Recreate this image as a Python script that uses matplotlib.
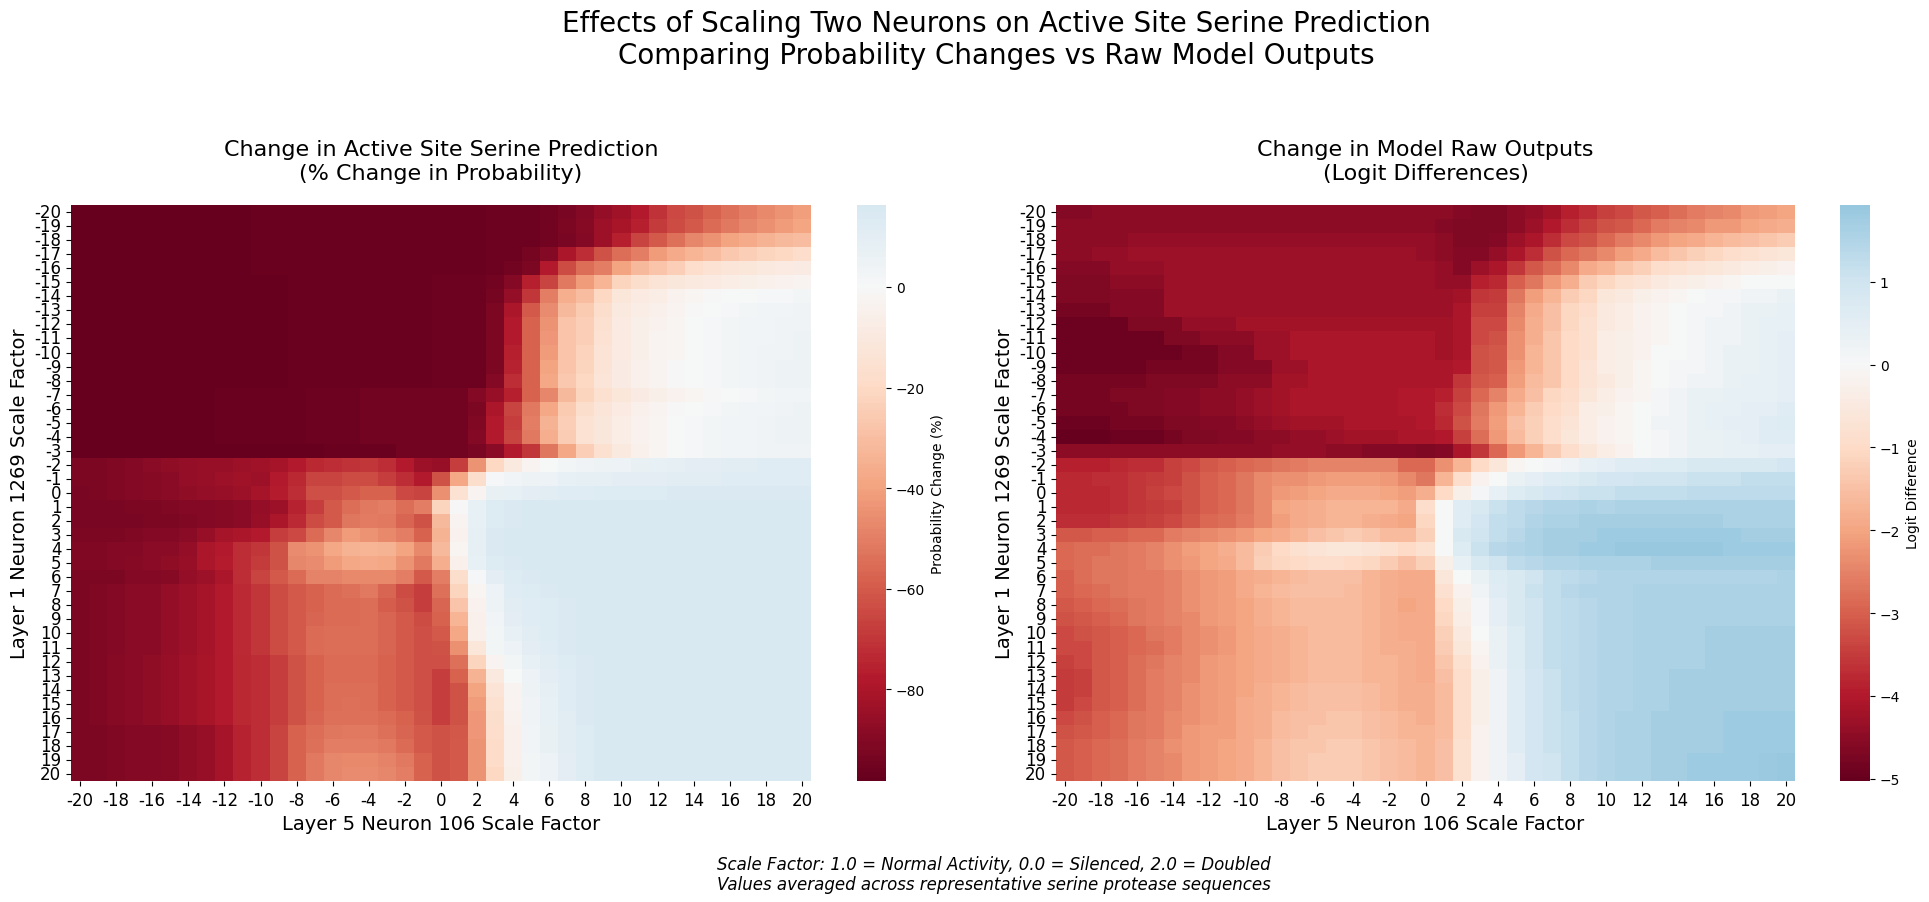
import numpy as np
import pandas as pd
import matplotlib
matplotlib.use('Agg')
import matplotlib.pyplot as plt
import seaborn as sns

scales = list(range(-20, 21))

h0 = [-98]*10 + [-97]*13
h1 = [-98]*12 + [-97]*8 + [-96]*3
h2 = [-98]*8 + [-97]*5 + [-96]*3 + [-95]*6
a7 = [-92,-91,-90,-88,-88,-86,-84,-82,-78,-73,-70,-64,-60]
a12 = [-92,-91,-89,-88,-87,-85,-83,-81,-78,-74,-72,-68,-62]
a17 = [-92,-92,-91,-90,-90,-89,-87,-85,-82,-75,-72,-66,-58]

# % change in probability, one row per layer 1 scale factor
prob_change = [
 h0 + [-96,-96,-96,-95,-93,-90,-86,-83,-78,-71,-65,-62,-58,-54,-50,-47,-44,-41],
 h0 + [-96,-96,-96,-95,-92,-89,-84,-81,-76,-69,-64,-60,-56,-52,-48,-45,-42,-39],
 h0 + [-96,-96,-96,-95,-93,-90,-84,-76,-66,-60,-54,-48,-44,-40,-37,-34,-32,-30],
 h0 + [-96,-96,-94,-90,-80,-72,-62,-55,-50,-42,-37,-33,-30,-27,-24,-22,-20,-18],
 h0 + [-96,-95,-92,-78,-64,-55,-50,-40,-32,-28,-24,-18,-15,-13,-12,-10,-9,-8],
 h1 + [-95,-90,-76,-66,-52,-42,-33,-22,-17,-14,-11,-10,-9,-7,-6,-5,-4,-3],
 h1 + [-94,-86,-70,-50,-36,-30,-20,-12,-9,-7,-4,-2,-1,0,0,1,1,2],
 h1 + [-92,-80,-60,-46,-32,-26,-17,-10,-7,-5,-3,-1,0,1,2,3,3,4],
 h1 + [-92,-78,-58,-44,-28,-24,-16,-9,-6,-4,-2,0,1,2,3,3,4,4],
 h1 + [-92,-78,-58,-43,-28,-24,-15,-9,-6,-3,-2,0,1,2,3,3,4,5],
 h1 + [-92,-76,-58,-42,-28,-23,-14,-9,-6,-3,-2,0,1,2,3,4,4,5],
 h1 + [-92,-75,-58,-40,-28,-22,-14,-8,-5,-3,-1,0,1,2,3,4,5,5],
 h1 + [-90,-72,-58,-38,-27,-20,-13,-8,-5,-3,-1,0,1,2,3,4,5,5],
 h2 + [-90,-85,-76,-58,-48,-32,-22,-16,-12,-8,-6,-4,-2,-1,0,1,2,3,3],
 h2 + [-92,-80,-66,-52,-38,-26,-17,-13,-9,-5,-3,-1,0,1,2,3,3,4,5],
 h2 + [-91,-78,-68,-50,-34,-24,-15,-11,-7,-4,-2,0,1,2,3,3,4,5,5],
 h2 + [-90,-78,-66,-52,-36,-25,-15,-11,-7,-4,-2,0,1,2,3,3,4,5,5],
 [-98]*14 + [-97]*4 + [-95]*4 + [-93,-88,-78,-70,-53,-38,-24,-16,-10,-5,-2,0,1,2,3,3,4,4,4],
 [-92,-92,-91,-90,-88,-87,-86,-85,-85,-84,-83,-82,-78,-74,-72,-71,-70,-72,-78,-84,-85,-68,-44,-20,-10,-3,0,2,4,5,6,7,8,9,10,10,11,11,12,12,12],
 [-92,-92,-91,-90,-89,-88,-86,-85,-84,-83,-84,-78,-74,-66,-66,-64,-64,-68,-72,-78,-62,-38,-17,1,3,5,6,8,9,9,10,10,10,11,11,11,12,12,12,12,12],
 [-93,-92,-91,-90,-89,-88,-87,-86,-85,-84,-82,-77,-72,-63,-63,-60,-58,-58,-65,-66,-45,-15,-3,7,8,10,11,12,12] + [13]*4 + [14]*8,
 [-93,-93,-93,-92,-92,-91,-90,-90,-89,-88,-86,-84,-75,-68,-60,-55,-52,-50,-55,-50,-22,-1,8,13,14] + [15]*16,
 [-93,-93,-93,-93,-92,-92,-91,-90,-89,-88,-85,-80,-73,-64,-60,-53,-51,-52,-57,-62,-32,-3,8,13,14] + [15]*16,
 [-92,-92,-92,-91,-90,-90,-88,-85,-82,-80,-78,-68,-65,-56,-48,-42,-44,-47,-50,-58,-34,-4,9,14] + [15]*17,
 [-91,-91,-90,-90,-88,-88,-86,-80,-78,-72,-70,-62,-46,-44,-38,-34,-33,-34,-40,-47,-32,-2,9,14] + [15]*17,
 [-91,-91,-90,-89,-88,-87,-85,-80,-77,-72,-69,-62,-48,-46,-42,-38,-37,-38,-44,-52,-36,-5,8,13,14] + [15]*16,
 [-92,-92,-92,-90,-90,-89,-86,-84,-80,-72,-66,-60,-56,-49,-49,-47,-47,-47,-50,-60,-50,-17,1,10,13,14] + [15]*15,
 a7 + [-58,-56,-54,-52,-57,-64,-68,-54,-22,-2,6,12,13,14] + [15]*14,
 a7 + [-58,-56,-56,-55,-59,-62,-68,-57,-28,-4,5,11,12,13,14] + [15]*13,
 a7 + [-57,-56,-56,-55,-57,-60,-64,-58,-33,-5,3,10,12,13,14] + [15]*13,
 a7 + [-56,-55,-55,-55,-57,-60,-63,-60,-38,-5,2,8,11,13,14] + [15]*13,
 a7 + [-56,-55,-55,-55,-57,-60,-63,-62,-45,-12,2,6,10,12,14] + [15]*13,
 a12 + [-58,-56,-56,-56,-58,-60,-63,-63,-54,-22,-3,2,8,11,13,14] + [15]*12,
 a12 + [-58,-56,-56,-56,-58,-60,-63,-68,-58,-34,-10,0,6,10,12,14] + [15]*12,
 a12 + [-58,-55,-55,-55,-58,-60,-63,-68,-62,-40,-14,-3,5,9,12,14] + [15]*12,
 a12 + [-58,-55,-54,-55,-58,-60,-63,-68,-62,-42,-16,-3,4,8,12,14] + [15]*12,
 a12 + [-57,-54,-54,-54,-56,-58,-62,-68,-62,-43,-17,-4,4,8,11,14] + [15]*12,
 a17 + [-55,-53,-52,-52,-54,-57,-60,-62,-61,-43,-18,-5,3,7,11,13] + [15]*12,
 a17 + [-54,-50,-50,-50,-52,-56,-60,-62,-60,-44,-19,-5,3,7,11,13] + [15]*12,
 a17 + [-52,-48,-47,-47,-49,-52,-58,-62,-60,-44,-19,-5,2,6,10,13] + [15]*12,
 a17 + [-52,-48,-46,-46,-48,-50,-58,-62,-60,-44,-20,-6,2,6,10,13] + [15]*12,
]

# right hand ends of the lower logit rows
t7 = [.6,.8,1.1,1.2,1.4,1.5,1.5,1.5,1.6,1.6,1.6,1.6,1.6,1.6,1.6,1.6,1.6]
t8 = [.5,.8,1.0,1.2,1.3,1.4,1.5,1.5,1.6,1.6,1.6,1.6,1.6,1.6,1.6,1.6,1.6]
t10 = [.3,.7,1.0,1.2,1.3,1.4,1.5,1.5,1.6,1.6,1.6,1.6,1.7,1.7,1.7,1.7,1.7]
t13 = [.2,.6,.9,1.1,1.3,1.4,1.5,1.5,1.6,1.6,1.7,1.7,1.7,1.7,1.7,1.7,1.7]
t16 = [.2,.6,.9,1.1,1.2,1.4,1.5,1.6,1.6,1.7,1.7,1.7,1.7,1.8,1.8,1.8,1.8]
t19 = [.2,.5,.9,1.0,1.2,1.4,1.5,1.6,1.6,1.7,1.7,1.8,1.8,1.8,1.8,1.85,1.9]

# logit differences, same layout
logit_diff = [
 [-4.6]*2 + [-4.5]*20 + [-4.6,-4.7] + [-4.7,-4.5,-4.4,-4.2,-3.9,-3.7,-3.4,-3.3,-3.1,-3.0,-2.8,-2.6,-2.5,-2.4,-2.2,-2.1,-2.0],
 [-4.5]*21 + [-4.6,-4.7,-4.7] + [-4.7,-4.5,-4.3,-4.0,-3.7,-3.4,-3.2,-3.1,-2.9,-2.6,-2.5,-2.4,-2.2,-2.2,-2.0,-1.9,-1.8],
 [-4.5]*4 + [-4.4]*17 + [-4.5,-4.7,-4.7] + [-4.6,-4.3,-4.1,-3.7,-3.3,-3.2,-2.9,-2.6,-2.4,-2.2,-2.0,-1.9,-1.7,-1.6,-1.5,-1.4,-1.3],
 [-4.5]*2 + [-4.4]*2 + [-4.3]*16 + [-4.4,-4.5,-4.6,-4.6] + [-4.4,-4.1,-3.7,-3.2,-2.9,-2.7,-2.4,-2.1,-1.9,-1.6,-1.4,-1.2,-1.1,-.9,-.8,-.7,-.6],
 [-4.6]*3 + [-4.4]*3 + [-4.3]*15 + [-4.4,-4.6,-4.3] + [-4.1,-3.6,-3.1,-2.8,-2.4,-1.9,-1.7,-1.4,-1.2,-.9,-.8,-.7,-.6,-.5,-.4,-.3,-.2],
 [-4.7]*3 + [-4.5]*3 + [-4.3]*15 + [-4.4,-4.4,-3.9] + [-3.8,-3.0,-2.7,-2.2,-1.8,-1.3,-1.1,-.8,-.7,-.5,-.4,-.3,-.2,-.1,0,0,0],
 [-4.7]*3 + [-4.6]*3 + [-4.3]*15 + [-4.3,-4.2,-3.6] + [-3.5,-2.7,-2.1,-1.7,-1.3,-1.1,-.6,-.5,-.3,-.2,-.1,0,.1,.1,.2,.2,.3],
 [-4.8]*3 + [-4.6]*3 + [-4.3]*15 + [-4.3,-4.1,-3.4] + [-3.4,-2.5,-1.9,-1.5,-1.1,-.9,-.5,-.4,-.2,-.1,0,.1,.1,.2,.3,.3,.4],
 [-4.9]*4 + [-4.7]*3 + [-4.4]*3 + [-4.2]*11 + [-4.2,-4.1,-3.3] + [-3.3,-2.4,-1.8,-1.5,-1.1,-.8,-.5,-.4,-.2,-.1,0,.1,.2,.2,.3,.4,.4],
 [-4.9]*6 + [-4.7]*2 + [-4.5]*3 + [-4.3]*2 + [-4.1]*8 + [-4.2,-4.1,-3.3] + [-3.2,-2.3,-1.8,-1.4,-1,-.8,-.4,-.3,-.2,-.1,0,.1,.2,.2,.3,.4,.5],
 [-4.9]*7 + [-4.8]*2 + [-4.6]*2 + [-4.3]*2 + [-4.1]*8 + [-4.2,-4.1,-3.2] + [-3.1,-2.3,-1.7,-1.4,-1,-.8,-.4,-.3,-.2,0,0,.1,.2,.3,.3,.4,.5],
 [-4.9]*5 + [-4.8]*4 + [-4.6]*3 + [-4.3]*2 + [-4.1]*7 + [-4.1,-4.0,-3.2] + [-3.1,-2.2,-1.7,-1.4,-1,-.7,-.4,-.3,-.1,0,.1,.1,.2,.3,.3,.4,.5],
 [-4.8]*5 + [-4.7]*4 + [-4.5]*3 + [-4.2]*2 + [-4.1]*7 + [-4.1,-3.6,-3.1] + [-3.0,-2.1,-1.6,-1.4,-1,-.7,-.5,-.3,-.1,0,.1,.2,.2,.3,.4,.4,.5],
 [-4.8,-4.8,-4.8,-4.7,-4.7,-4.7,-4.6,-4.6,-4.5,-4.5,-4.4,-4.3,-4.2,-4.1,-4.1,-4.1,-4.1,-4.1,-4.1,-4.0,-4.0,-3.9,-3.4,-2.9,-2.5,-1.9,-1.5,-1.1,-.9,-.6,-.4,-.2,-.1,.1,.2,.3,.3,.4,.4,.4,.5],
 [-4.8,-4.8,-4.8,-4.8,-4.7,-4.7,-4.6,-4.6,-4.5,-4.5,-4.4,-4.3,-4.2,-4.1,-4.1,-4.1,-4.1,-4.1,-4.1,-4.0,-4.0,-3.7,-3.3,-2.7,-2.2,-1.7,-1.3,-1,-.8,-.4,-.3,-.1,0,.1,.2,.3,.4,.4,.5,.5,.6],
 [-4.9,-4.9,-4.9,-4.8,-4.8,-4.8,-4.7,-4.7,-4.6,-4.6,-4.5,-4.4,-4.3,-4.2,-4.2,-4.2,-4.1,-4.1,-4.1,-4.1,-4.0,-3.8,-3.2,-2.6,-2.1,-1.5,-1.2,-.9,-.7,-.4,-.2,-.1,0,.2,.2,.3,.4,.5,.5,.6,.7],
 [-5,-5,-5,-4.9,-4.9,-4.9,-4.8,-4.7,-4.7,-4.6,-4.6,-4.5,-4.5,-4.4,-4.4,-4.3,-4.2,-4.2,-4.2,-4.1,-4.1,-4.0,-3.4,-2.8,-2.2,-1.6,-1.2,-.9,-.6,-.4,-.2,-.1,0,.1,.2,.3,.3,.4,.5,.6,.6],
 [-4.5]*12 + [-4.4]*3 + [-4.5]*2 + [-4.6]*3 + [-4.7,-4.6,-4.1,-3.6] + [-2.9,-2.2,-1.7,-1.3,-.9,-.6,-.4,-.2,0,.1,.2,.3,.3,.4,.4,.5,.5],
 [-3.9,-3.9,-3.9,-3.8,-3.7,-3.7,-3.4,-3.3,-3.1,-3,-2.9,-2.8,-2.7,-2.6,-2.5,-2.5,-2.5,-2.5,-2.5,-2.9,-2.9,-2.3,-1.7,-1.0,-.6,-.1,0,.1,.2,.4,.5,.6,.6,.7,.7,.8,.8,.8,.8,.8,.9],
 [-3.8,-3.8,-3.7,-3.7,-3.6,-3.5,-3.4,-3.2,-3,-2.9,-2.7,-2.4,-2.3,-2.3,-2.2,-2.1,-2.1,-2.1,-2.2,-2.4,-2.7,-1.7,-.9,-.2,0,.3,.5,.6,.7,.8,.9,.9,1,1,1,1.1,1.1,1.1,1.2,1.2,1.2],
 [-3.8,-3.8,-3.8,-3.7,-3.6,-3.4,-3.3,-3.2,-3,-2.9,-2.7,-2.4,-2.2,-2.1,-2,-1.9,-1.9,-1.9,-2,-2.1,-1.8,-1,-.3,.1,.4,.7,.8,.9,1,1.1,1.1,1.2,1.2,1.2,1.2,1.3,1.3,1.3,1.3,1.3,1.3],
 [-3.8,-3.8,-3.8,-3.7,-3.6,-3.5,-3.4,-3.2,-3,-2.9,-2.7,-2.4,-2,-1.9,-1.8,-1.7,-1.7,-1.7,-1.7,-1.9,-.9,0,.6,.8,1.1,1.3,1.4,1.5,1.5,1.6,1.5] + [1.6]*10,
 [-3.7,-3.7,-3.7,-3.6,-3.5,-3.4,-3.3,-3.1,-2.9,-2.8,-2.6,-2.4,-2.1,-1.9,-1.8,-1.7,-1.7,-1.8,-1.9,-2,-1.1,0,.6,.9,1.2,1.3,1.5,1.6,1.6] + [1.7]*8 + [1.6]*4,
 [-3.1,-3.1,-3,-3,-2.9,-2.9,-2.6,-2.5,-2.4,-2.3,-2.2,-2,-1.9,-1.7,-1.5,-1.4,-1.3,-1.4,-1.6,-1.6,-1.2,0,.8,1,1.2,1.4,1.6,1.7,1.7,1.7] + [1.8]*8 + [1.7]*3,
 [-2.9,-2.8,-2.8,-2.7,-2.6,-2.5,-2.3,-2.1,-2,-1.8,-1.6,-1.3,-1,-.8,-.7,-.6,-.6,-.7,-.8,-1,-.8,0,.7,1.1,1.4,1.5,1.6,1.7,1.7,1.8,1.8] + [1.9]*6 + [1.8]*4,
 [-2.9,-2.8,-2.7,-2.7,-2.6,-2.5,-2.3,-2.2,-2,-1.9,-1.6,-1.2,-1.1,-1,-.9,-.9,-1,-1.1,-1.3,-1.5,-1.2,-.3,.4,.8,1,1.3,1.4,1.5,1.5] + [1.6]*4 + [1.7]*8,
 [-3,-2.8,-2.7,-2.7,-2.6,-2.6,-2.5,-2.3,-2.2,-2.1,-1.9,-1.8,-1.7,-1.6,-1.5,-1.5,-1.5,-1.7,-1.8,-1.9,-1.9,-.6,0,.3,.7,.8,1,1.2,1.3,1.4,1.5] + [1.5]*9 + [1.6],
 [-3,-2.9,-2.8,-2.7,-2.6,-2.6,-2.5,-2.3,-2.2,-2.1,-1.9,-1.7,-1.6,-1.5,-1.5,-1.5,-1.6,-1.7,-1.8,-1.9,-1.9,-.8,-.2,.2] + t7,
 [-3.1,-3,-2.9,-2.8,-2.7,-2.6,-2.5,-2.3,-2.2,-2.1,-2,-1.8,-1.7,-1.6,-1.6,-1.6,-1.6,-1.7,-1.8,-2,-1.9,-1,-.3,.1] + t8,
 [-3.2,-3.1,-3,-2.9,-2.7,-2.6,-2.5,-2.4,-2.2,-2.1,-2,-1.8,-1.7,-1.6,-1.6,-1.6,-1.6,-1.7,-1.8,-1.9,-1.9,-1.1,-.4,.1] + t8,
 [-3.3,-3.2,-3.1,-3,-2.9,-2.7,-2.6,-2.4,-2.3,-2.2,-2,-1.9,-1.8,-1.7,-1.6,-1.6,-1.6,-1.7,-1.8,-1.9,-1.9,-1.2,-.5,0] + t10,
 [-3.3,-3.3,-3.1,-3,-2.9,-2.8,-2.6,-2.4,-2.3,-2.2,-2,-1.9,-1.8,-1.7,-1.6,-1.6,-1.6,-1.7,-1.8,-1.8,-1.9,-1.3,-.6,-.1] + t10,
 [-3.4,-3.3,-3.1,-3,-2.8,-2.7,-2.5,-2.4,-2.2,-2.1,-2,-1.9,-1.8,-1.7,-1.6,-1.6,-1.6,-1.7,-1.7,-1.8,-1.9,-1.4,-.8,-.2] + t10,
 [-3.5,-3.4,-3.1,-3,-2.8,-2.6,-2.5,-2.4,-2.2,-2.1,-2,-1.9,-1.8,-1.7,-1.6,-1.6,-1.6,-1.7,-1.7,-1.8,-1.9,-1.5,-.9,-.3] + t13,
 [-3.5,-3.4,-3.1,-3,-2.8,-2.6,-2.5,-2.3,-2.2,-2.1,-2,-1.8,-1.7,-1.6,-1.5,-1.5,-1.5,-1.6,-1.7,-1.8,-1.8,-1.6,-.9,-.3] + t13,
 [-3.5,-3.3,-3.1,-3,-2.8,-2.6,-2.5,-2.3,-2.2,-2.1,-1.9,-1.8,-1.7,-1.6,-1.5,-1.5,-1.5,-1.6,-1.7,-1.8,-1.8,-1.6,-.9,-.3] + t13,
 [-3.3,-3.2,-3,-2.9,-2.7,-2.6,-2.4,-2.3,-2.2,-2.1,-1.9,-1.8,-1.6,-1.5,-1.5,-1.4,-1.4,-1.5,-1.6,-1.7,-1.8,-1.6,-.9,-.3] + t16,
 [-3.2,-3.1,-3,-2.9,-2.7,-2.6,-2.4,-2.2,-2.1,-2.1,-1.9,-1.8,-1.6,-1.5,-1.4,-1.4,-1.4,-1.5,-1.6,-1.7,-1.7,-1.6,-.9,-.2] + t16,
 [-3.1,-3,-2.9,-2.8,-2.6,-2.5,-2.3,-2.2,-2.1,-2,-1.9,-1.7,-1.5,-1.4,-1.4,-1.3,-1.3,-1.4,-1.5,-1.6,-1.7,-1.5,-.8,-.2] + t16,
 [-3.1,-3,-2.9,-2.8,-2.6,-2.5,-2.4,-2.2,-2.1,-2,-1.9,-1.7,-1.5,-1.4,-1.3,-1.3,-1.3,-1.4,-1.5,-1.6,-1.7,-1.5,-.8,-.2] + t19,
 [-3.1,-3,-2.9,-2.8,-2.6,-2.5,-2.4,-2.2,-2.1,-2,-1.9,-1.7,-1.5,-1.4,-1.3,-1.3,-1.3,-1.4,-1.5,-1.6,-1.7,-1.5,-.8,-.2] + t19,
]

W, H = 1929, 903
fig = plt.figure(figsize=(W/100, H/100), dpi=100)

def px_axes(x0, y0, x1, y1):
    return fig.add_axes([x0/W, 1 - y1/H, (x1-x0)/W, (y1-y0)/H])

def draw(data, box, cbox, vmin, vmax, title, cbar_label):
    ax = px_axes(*box)
    cax = px_axes(*cbox)
    df = pd.DataFrame(data, index=scales, columns=scales)
    sns.heatmap(df, ax=ax, cbar_ax=cax, cmap='RdBu', center=0, vmin=vmin, vmax=vmax,
                xticklabels=2, yticklabels=1, cbar_kws={'label': cbar_label})
    ax.set_title(title, fontsize=16, pad=19)
    ax.set_xlabel('Layer 5 Neuron 106 Scale Factor', fontsize=14)
    ax.set_ylabel('Layer 1 Neuron 1269 Scale Factor', fontsize=14)
    ax.tick_params(axis='both', labelsize=12)
    plt.setp(ax.get_xticklabels(), rotation=0)
    plt.setp(ax.get_yticklabels(), rotation=0)
    return ax

draw(prob_change, (71, 206, 811, 782), (857, 206, 886, 782), -98.2, 16.3,
     'Change in Active Site Serine Prediction\n(% Change in Probability)', 'Probability Change (%)')
draw(logit_diff, (1056, 206, 1795, 782), (1840, 206, 1870, 782), -5.03, 1.93,
     'Change in Model Raw Outputs\n(Logit Differences)', 'Logit Difference')

fig.suptitle('Effects of Scaling Two Neurons on Active Site Serine Prediction\n'
             'Comparing Probability Changes vs Raw Model Outputs',
             fontsize=20, x=996/W, y=1 - 10/H, va='top')
fig.text(994/W, 1 - 875/H,
         'Scale Factor: 1.0 = Normal Activity, 0.0 = Silenced, 2.0 = Doubled\n'
         'Values averaged across representative serine protease sequences',
         ha='center', va='center', fontsize=12, style='italic')

fig.savefig('out.png', dpi=100)
